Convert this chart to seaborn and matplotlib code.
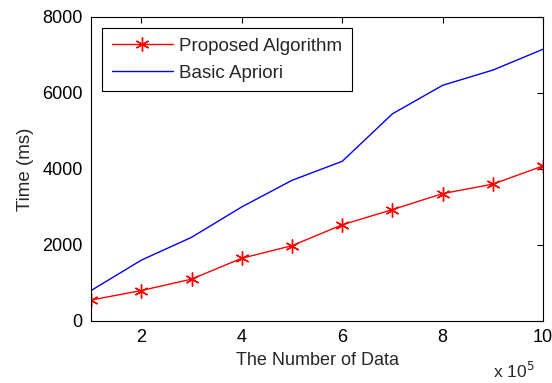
import matplotlib
matplotlib.use("Agg")
import matplotlib.pyplot as plt
import seaborn as sns
import pandas as pd

num_data = [1, 2, 3, 4, 5, 6, 7, 8, 9, 10]
proposed = [550, 800, 1100, 1650, 1980, 2530, 2930, 3350, 3600, 4080]
apriori = [800, 1600, 2200, 3000, 3700, 4200, 5450, 6200, 6600, 7150]
xticks = [2, 4, 6, 8, 10]
yticks = [0, 2000, 4000, 6000, 8000]

sns.set_style("white")
plt.rcParams['font.family'] = ['Liberation Sans', 'DejaVu Sans']

fig = plt.figure(figsize=(5.52, 3.83), dpi=100)
ax = fig.add_axes([0.165, 0.162, 0.819, 0.794])

df = pd.DataFrame({"x": num_data, "Proposed Algorithm": proposed, "Basic Apriori": apriori})
sns.lineplot(data=df, x="x", y="Proposed Algorithm", ax=ax, color="#ff0000", lw=1,
             marker=(6, 2, 0), markersize=10, markeredgewidth=1, markeredgecolor="#ff0000",
             label="Proposed Algorithm")
sns.lineplot(data=df, x="x", y="Basic Apriori", ax=ax, color="#0000ff", lw=1,
             label="Basic Apriori")

ax.set_xlim(1, 10)
ax.set_ylim(0, 8000)
ax.set_xticks(xticks)
ax.set_yticks(yticks)
ax.tick_params(direction="in", top=True, right=True, length=4, width=0.8,
               labelsize=13, colors="black", pad=6)
for s in ax.spines.values():
    s.set_color("black")
    s.set_linewidth(0.8)
ax.set_xlabel("The Number of Data", fontsize=13, labelpad=4)
ax.set_ylabel("Time (ms)", fontsize=13.5, labelpad=6)
ax.text(0.982, -0.13, r"x 10$^5$", transform=ax.transAxes, ha="right", va="top", fontsize=12.5)

leg = ax.legend(loc="upper left", fontsize=13.5, frameon=True, fancybox=False,
                edgecolor="black", framealpha=1, borderaxespad=0.6, handlelength=3.25,
                handletextpad=0.35, labelspacing=0.55, borderpad=0.5)
leg.get_frame().set_linewidth(0.8)

fig.savefig("out.png", dpi=100)
